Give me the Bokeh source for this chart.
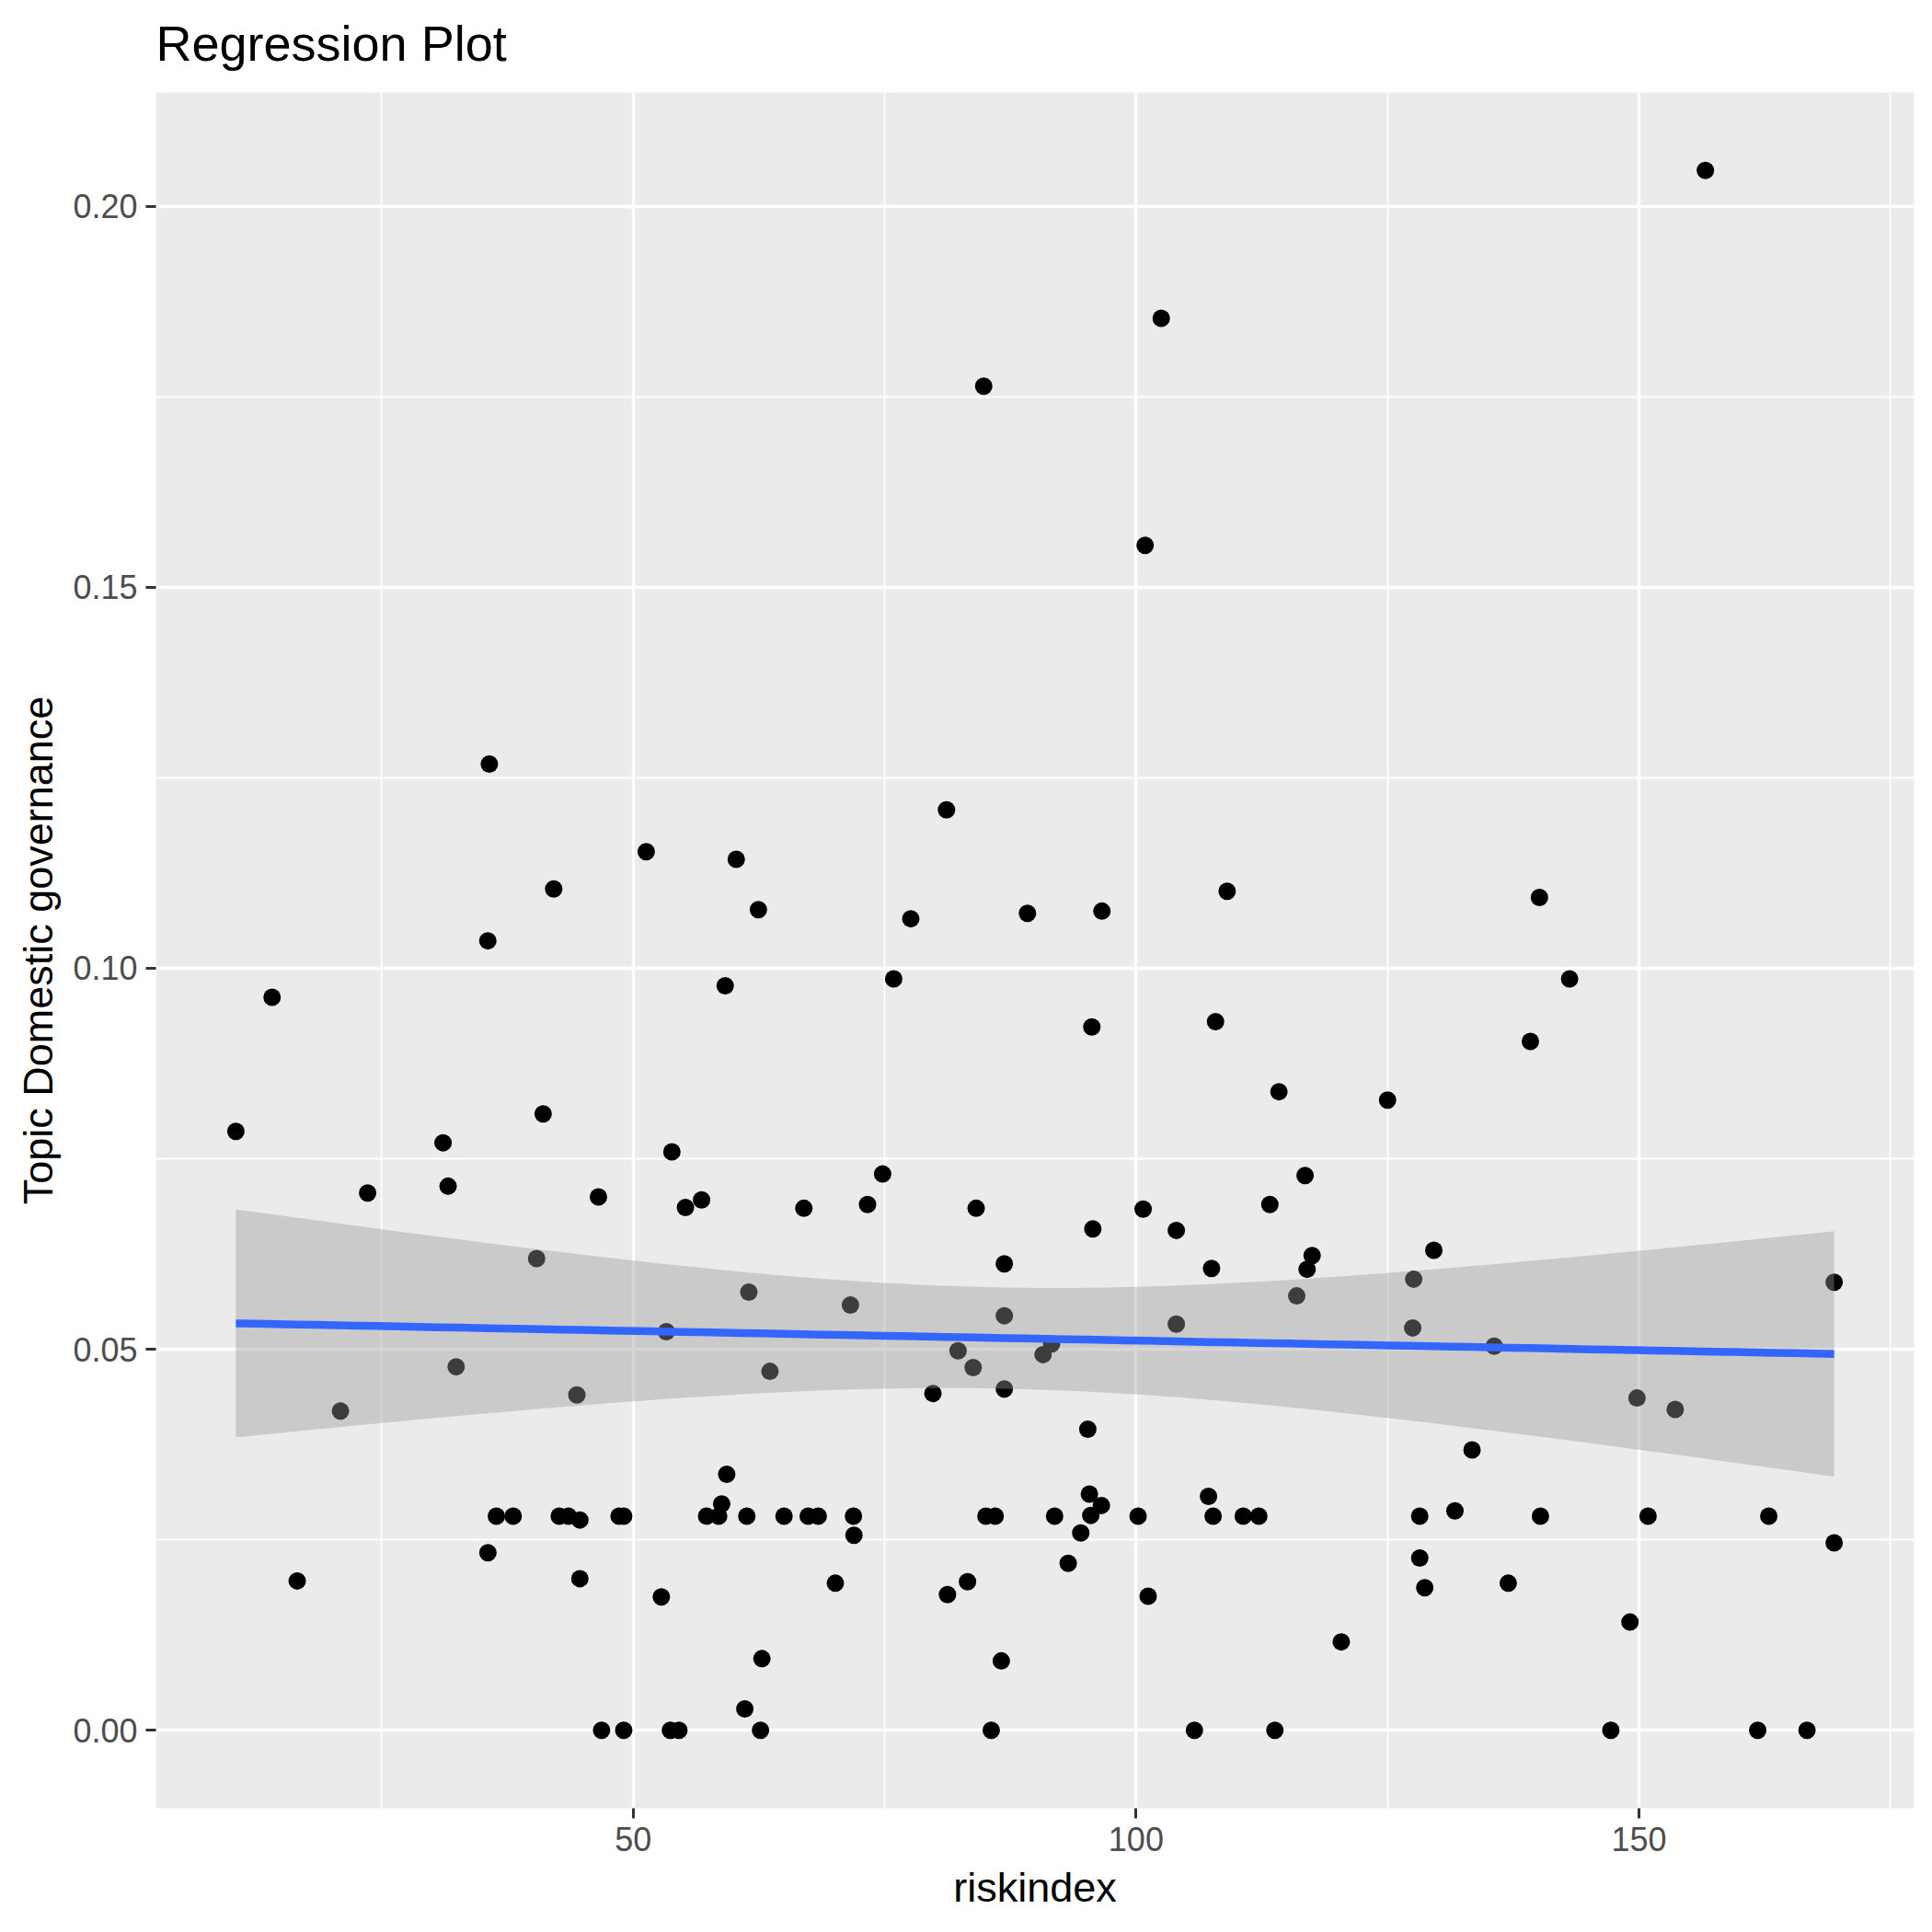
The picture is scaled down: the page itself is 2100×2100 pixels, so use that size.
import numpy as np
from bokeh.plotting import figure
from bokeh.layouts import column
from bokeh.models import Range1d, FixedTicker, PrintfTickFormatter
from bokeh.core.properties import value
from bokeh.embed import file_html
from bokeh.resources import INLINE

# ---- data ----
riskindex = [
    10.5, 14.1, 16.6, 20.9, 23.6, 31.1, 31.6, 32.4, 35.7, 35.55,
    35.56, 36.4, 38.07, 40.4, 41.05, 42.1, 42.65, 43.56, 44.4, 44.7,
    44.7, 46.55, 46.86, 48.6, 49.06, 49.06, 51.3, 52.8, 53.3, 53.85,
    53.7, 54.55, 55.2, 56.8, 57.3, 58.5, 58.8, 59.15, 59.3, 60.25,
    61.1, 61.3, 61.5, 62.45, 62.8, 62.66, 63.6, 65.0, 66.97, 67.4,
    68.4, 70.1, 71.6, 71.9, 71.95, 73.3, 74.8, 75.9, 77.6, 79.8,
    81.15, 81.25, 82.3, 83.24, 83.8, 84.1, 84.85, 85.07, 85.99, 85.6,
    86.6, 86.9, 86.9, 86.9, 89.2, 90.75, 91.6, 91.9, 93.25, 94.5,
    95.2, 95.36, 95.5, 95.6, 95.7, 96.6, 96.55, 100.2, 100.7, 100.9,
    101.2, 102.5, 104.0, 104.0, 105.8, 107.2, 107.5, 107.66, 107.9, 109.05,
    110.65, 112.2, 113.3, 113.8, 114.2, 115.97, 116.8, 117.0, 117.5, 120.4,
    125.0, 127.5, 127.6, 128.2, 128.2, 128.7, 129.6, 131.7, 133.4, 135.6,
    137.0, 139.2, 140.1, 140.2, 143.1, 147.2, 149.1, 149.8, 150.9, 153.6,
    156.6, 161.8, 162.9, 166.7, 169.4, 169.4,
]
topic_domestic_governance = [
    0.0786, 0.0962, 0.0196, 0.0419, 0.0705, 0.0771, 0.0714, 0.0477, 0.1268, 0.1036,
    0.0233, 0.0281, 0.0281, 0.0619, 0.0809, 0.1104, 0.0281, 0.0281, 0.0440, 0.0276,
    0.0199, 0.0700, 0.0, 0.0281, 0.0281, 0.0, 0.1153, 0.0175, 0.0523, 0.0759,
    0.0, 0.0, 0.0686, 0.0696, 0.0281, 0.0281, 0.0297, 0.0977, 0.0336, 0.1143,
    0.0028, 0.0281, 0.0575, 0.1077, 0.0094, 0.0, 0.0471, 0.0281, 0.0685, 0.0281,
    0.0281, 0.0193, 0.0558, 0.0281, 0.0256, 0.0690, 0.0730, 0.0986, 0.1065, 0.0442,
    0.1208, 0.0178, 0.0498, 0.0195, 0.0476, 0.0685, 0.1764, 0.0281, 0.0281, 0.0,
    0.0091, 0.0612, 0.0544, 0.0448, 0.1072, 0.0493, 0.0507, 0.0281, 0.0219, 0.0259,
    0.0395, 0.0310, 0.0282, 0.0923, 0.0658, 0.1075, 0.0295, 0.0281, 0.0684, 0.1555,
    0.0176, 0.1853, 0.0656, 0.0533, 0.0, 0.0307, 0.0606, 0.0281, 0.0930, 0.1101,
    0.0281, 0.0281, 0.0690, 0.0, 0.0838, 0.0570, 0.0728, 0.0605, 0.0623, 0.0116,
    0.0827, 0.0528, 0.0592, 0.0281, 0.0226, 0.0187, 0.0630, 0.0288, 0.0368, 0.0504,
    0.0193, 0.0904, 0.1093, 0.0281, 0.0986, 0.0, 0.0142, 0.0436, 0.0281, 0.0421,
    0.2047, 0.0, 0.0281, 0.0, 0.0588, 0.0246,
]
x_ticks = [50, 100, 150]
x_minor = [25, 75, 125, 175]
y_ticks = [0.0, 0.05, 0.10, 0.15, 0.20]
y_minor = [0.025, 0.075, 0.125, 0.175]

title_text = "Regression Plot"
x_label = "riskindex"
y_label = "Topic Domestic governance"

# ---- linear fit with 95% confidence band (like geom_smooth(method="lm")) ----
x = np.array(riskindex, dtype=float)
y = np.array(topic_domestic_governance, dtype=float)
n = len(x)
xbar, ybar = x.mean(), y.mean()
sxx = np.sum((x - xbar) ** 2)
slope = np.sum((x - xbar) * (y - ybar)) / sxx
icept = ybar - slope * xbar
resid = y - (icept + slope * x)
s = np.sqrt(np.sum(resid ** 2) / (n - 2))
xs = np.linspace(x.min(), x.max(), 80)
fit = icept + slope * xs
se = s * np.sqrt(1.0 / n + (xs - xbar) ** 2 / sxx)
tq = 1.978
lo = fit - tq * se
hi = fit + tq * se

# ranges with ggplot-like 5% expansion
xr = x.max() - x.min()
yr = y.max() - y.min()
x_range = Range1d(x.min() - 0.05 * xr, x.max() + 0.05 * xr)
y_range = Range1d(y.min() - 0.05 * yr, y.max() + 0.05 * yr)

FONT = "Liberation Sans"
W = 2084
TITLE_H = 100
MAIN_H = 1984
BL, BR = 169, 4
FRAME_W = W - BL - BR

# ---- title strip (its frame is aligned with the panel below it) ----
t = figure(
    width=W, height=TITLE_H,
    output_backend="svg", toolbar_location=None,
    x_range=Range1d(0, FRAME_W), y_range=Range1d(0, TITLE_H),
    x_axis_location=None, y_axis_location=None,
    min_border=0, background_fill_color="white", border_fill_color="white",
    outline_line_color=None,
)
t.grid.visible = False
t.text(
    x=[0], y=[54], text=[title_text],
    text_font=value(FONT), text_font_size=value("54px"),
    text_color="black", text_align="left", text_baseline="alphabetic",
)

# ---- main panel ----
p = figure(
    width=W, height=MAIN_H,
    output_backend="svg", toolbar_location=None,
    x_range=x_range, y_range=y_range,
    min_border_left=BL, min_border_right=BR,
    min_border_top=0, min_border_bottom=119,
    background_fill_color="#EBEBEB", border_fill_color="white",
    outline_line_color=None,
)

# axes
p.xaxis.ticker = FixedTicker(ticks=x_ticks, minor_ticks=x_minor)
p.yaxis.ticker = FixedTicker(ticks=y_ticks, minor_ticks=y_minor)
p.xaxis.formatter = PrintfTickFormatter(format="%d")
p.yaxis.formatter = PrintfTickFormatter(format="%.2f")
p.xaxis.axis_label = x_label
p.yaxis.axis_label = y_label
for ax in (p.xaxis, p.yaxis):
    ax.axis_line_color = None
    ax.major_tick_in = 0
    ax.major_tick_out = 11
    ax.major_tick_line_color = "#333333"
    ax.major_tick_line_width = 3
    ax.minor_tick_in = 0
    ax.minor_tick_out = 0
    ax.minor_tick_line_color = None
    ax.major_label_text_font = FONT
    ax.major_label_text_font_size = "36px"
    ax.major_label_text_color = "#4D4D4D"
    ax.major_label_standoff = 9
    ax.axis_label_text_font = FONT
    ax.axis_label_text_font_size = "45px"
    ax.axis_label_text_font_style = "normal"
    ax.axis_label_text_color = "black"
p.xaxis.axis_label_standoff = 11
p.yaxis.axis_label_standoff = 9

# grids
for g in (p.xgrid, p.ygrid):
    g.grid_line_color = "white"
    g.grid_line_width = 3.5
    g.minor_grid_line_color = "white"
    g.minor_grid_line_width = 1.8

# points, ribbon, fitted line
p.scatter(x, y, size=19, color="black", line_color=None)
p.varea(x=xs, y1=lo, y2=hi, fill_color="#999999", fill_alpha=0.4)
p.line(xs, fit, line_color="#3366FF", line_width=8.5)

layout = column(t, p, spacing=0)
open("out.html", "w").write(file_html(layout, INLINE))
